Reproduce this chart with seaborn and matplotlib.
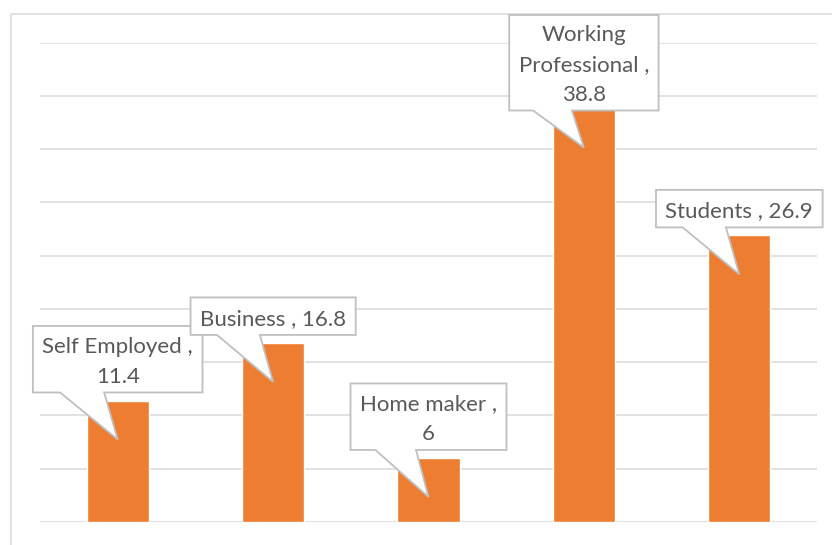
import matplotlib
matplotlib.use("Agg")
import matplotlib.pyplot as plt
import seaborn as sns
import pandas as pd
from matplotlib.patches import Polygon, Rectangle

categories = ["Self Employed", "Business", "Home maker", "Working Professional", "Students"]
values = [11.4, 16.8, 6, 38.8, 26.9]
label_heads = ["Self Employed ,\n", "Business , ", "Home maker ,\n", "Working\nProfessional ,\n", "Students , "]
labels = [h + f"{v:g}" for h, v in zip(label_heads, values)]

BAR = "#ED7D31"
GRID = "#D9D9D9"
EDGE = "#BFBFBF"
TEXT = "#595959"

W, H = 832, 545
sns.set_theme(style="white")
plt.rcParams["font.family"] = ["Lato", "DejaVu Sans"]

fig = plt.figure(figsize=(W / 100, H / 100), dpi=100)
ax = fig.add_axes([40 / W, (H - 522) / H, (817 - 40) / W, (522 - 42.7) / H])

df = pd.DataFrame({"category": categories, "value": values})
sns.barplot(data=df, x="category", y="value", color=BAR, saturation=1,
            width=0.4, ax=ax, zorder=2)

ax.set_ylim(0, 45)
ax.set_xlim(-0.5, len(categories) - 0.5)
ax.set_yticks(range(0, 46, 5))
ax.yaxis.grid(True, color=GRID, lw=1.1, zorder=0)
ax.set_axisbelow(True)
ax.tick_params(left=False, bottom=False, labelleft=False, labelbottom=False)
ax.set_xlabel("")
ax.set_ylabel("")
for s in ax.spines.values():
    s.set_visible(False)

# chart area border
fig.patches.append(Rectangle((10.5 / W, -0.05), 1.1, (H - 13.5) / H + 0.05,
                             transform=fig.transFigure, fill=False,
                             edgecolor=GRID, lw=1.1))

# callout data labels
fig.canvas.draw()
renderer = fig.canvas.get_renderer()
line_h = 29.0
for i, (v, lab) in enumerate(zip(values, labels)):
    tx, ty = ax.transData.transform((i, v - 3.65))
    n = lab.count("\n") + 1
    bh = line_h * n + 8.5
    bottom = ty + 47
    top = bottom + bh
    if top > H - 15:
        top = H - 15
        bottom = top - bh
    cy = (top + bottom) / 2 - 2.5
    t = fig.text(tx / W, cy / H, lab, ha="center", va="center", color=TEXT,
                 fontsize=16, linespacing=1.62, zorder=6)
    bb = t.get_window_extent(renderer)
    bw = bb.width + 19
    left = tx - bw / 2
    right = tx + bw / 2
    xa = left + 0.16 * bw
    xb = left + 0.42 * bw
    pts = [(left, top), (right, top), (right, bottom), (xb, bottom),
           (tx, ty), (xa, bottom), (left, bottom)]
    pts = [(x / W, y / H) for x, y in pts]
    fig.patches.append(Polygon(pts, closed=True, transform=fig.transFigure,
                               facecolor="white", edgecolor=EDGE, lw=1.3,
                               zorder=5))

fig.savefig("out.png", dpi=100)
